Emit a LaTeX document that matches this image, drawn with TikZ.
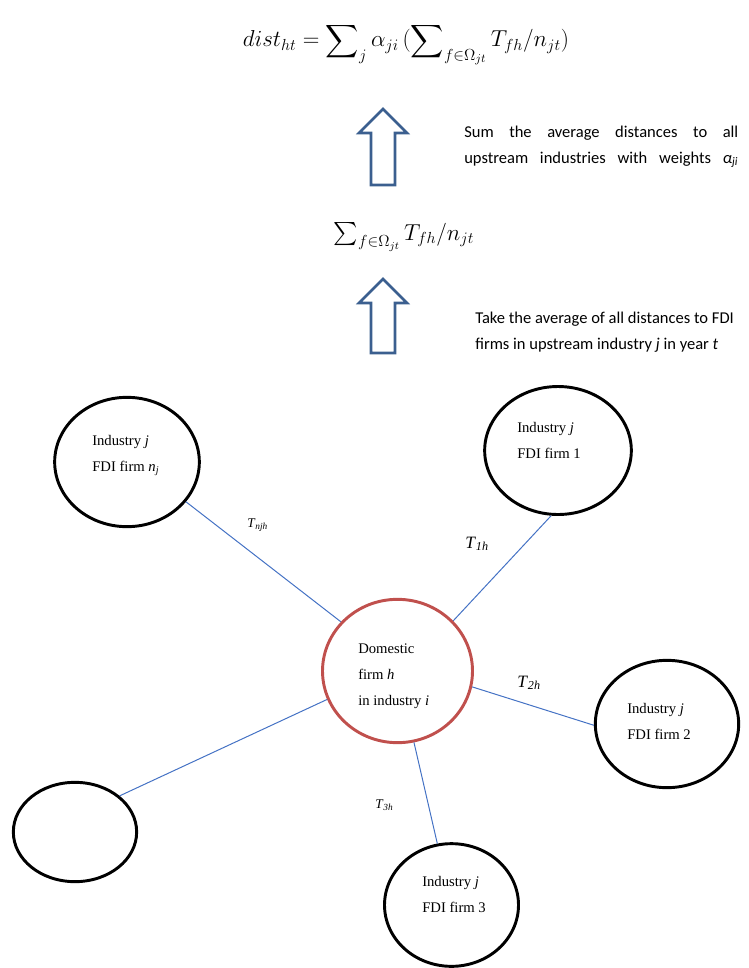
\documentclass[tikz,border=0pt]{standalone}
\usepackage{amsmath}
\usepackage{fontspec}
\setmainfont{Liberation Serif}
\newfontfamily\calibri{Carlito}
\usetikzlibrary{shapes.geometric}
\definecolor{domred}{RGB}{192,80,77}
\definecolor{linkblue}{RGB}{68,114,196}
\definecolor{arrowblue}{RGB}{59,95,143}

\begin{document}
\begin{tikzpicture}[x=0.75pt,y=-0.75pt,
  firm/.style={draw,ellipse,line width=2.2pt,inner sep=0pt},
  dom/.style={draw=domred,ellipse,line width=2.2pt,inner sep=0pt},
  link/.style={draw=linkblue,line width=0.75pt},
  lbl/.style={anchor=base west,align=left,inner sep=0pt,font=\fontsize{11}{19.5}\selectfont},
  tlab/.style={anchor=base west,inner sep=0pt},
  note/.style={anchor=base west,align=left,inner sep=0pt,font=\calibri\fontsize{12.4}{19.5}\selectfont},
  blockarrow/.style={draw=arrowblue,line width=2pt,line join=miter}]
  \useasboundingbox (0,0) rectangle (749,968);

  % formulas and steps
  \node[inner sep=0pt] (dist) at (406,44) {\fontsize{18}{21}\selectfont
    $\displaystyle dist_{ht}=\sum\nolimits_j \alpha_{ji}\,(\sum\nolimits_{f\in\Omega_{jt}} T_{fh}/n_{jt})$};
  \draw[blockarrow] (383,109) -- (407,133) -- (395,133) -- (395,185) -- (371,185) -- (371,133) -- (359,133) -- cycle;
  \node[note] (sumtxt) at (464,163) {\makebox[205.5pt][s]{Sum the average distances to all}\\
    \makebox[205.5pt][s]{upstream industries with weights \textit{α}\textsubscript{\textit{ji}}}};
  \node[inner sep=0pt] (avg) at (404,237) {\fontsize{17}{20}\selectfont $\sum\nolimits_{f\in\Omega_{jt}} T_{fh}/n_{jt}$};
  \draw[blockarrow] (383,279) -- (407,303) -- (395,303) -- (395,353) -- (371,353) -- (371,303) -- (359,303) -- cycle;
  \node[note] (avgtxt) at (475,349) {Take the average of all distances to FDI\\
    firms in upstream industry \textit{j} in year \textit{t}};

  % firms
  \node[dom, minimum width=112.5pt, minimum height=107.5pt] (dom) at (397.5,671) {};
  \node[firm, minimum width=108.5pt, minimum height=97pt] (nj) at (127,462) {};
  \node[firm, minimum width=110pt, minimum height=96pt] (f1) at (558,450.5) {};
  \node[firm, minimum width=107.5pt, minimum height=95.5pt] (f2) at (667,724) {};
  \node[firm, minimum width=100.5pt, minimum height=92pt] (f3) at (451.5,905) {};
  \node[firm, minimum width=92.5pt, minimum height=74.5pt] (f0) at (75,832) {};

  \node[lbl] (domtxt) at (358,705) {Domestic\\firm \textit{h}\\in industry \textit{i}};
  \node[lbl] (njtxt) at (92,471) {Industry \textit{j}\\FDI firm \textit{n}\textsubscript{\textit{j}}};
  \node[lbl] (f1txt) at (517,458) {Industry \textit{j}\\FDI firm 1};
  \node[lbl] (f2txt) at (627,739) {Industry \textit{j}\\FDI firm 2};
  \node[lbl] (f3txt) at (422,912) {Industry \textit{j}\\FDI firm 3};

  % distances
  \draw[link] (nj.-34) -- (dom.139);
  \draw[link] (f1.-96) -- (dom.42);
  \draw[link] (f2.181) -- (dom.-12);
  \draw[link] (f3.103) -- (dom.-77);
  \draw[link] (f0.39) -- (dom.202);

  \node[tlab, font=\fontsize{10}{12}\selectfont] (tnj) at (247,527) {\textit{T}\textsubscript{\textit{njh}}};
  \node[tlab, font=\fontsize{13}{15}\selectfont] (t1) at (465,548) {\textit{T}\textsubscript{\textit{1h}}};
  \node[tlab, font=\fontsize{13}{15}\selectfont] (t2) at (517,687) {\textit{T}\textsubscript{\textit{2h}}};
  \node[tlab, font=\fontsize{10}{12}\selectfont] (t3) at (375,808) {\textit{T}\textsubscript{\textit{3h}}};
\end{tikzpicture}
\end{document}
